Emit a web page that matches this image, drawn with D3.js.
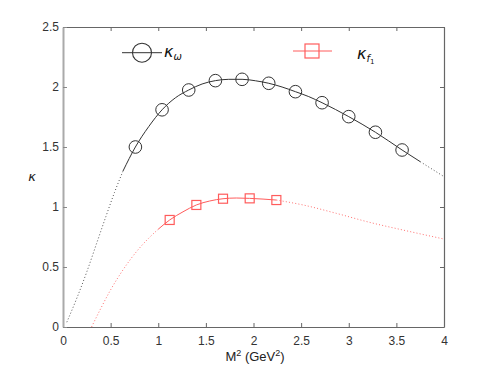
<!DOCTYPE html>
<html>
<head>
<meta charset="utf-8">
<script src="https://cdn.jsdelivr.net/npm/d3@7"></script>
<style>
  body { margin: 0; background: #fff; }
  svg { display: block; }
  .tick text { font-family: "Liberation Sans", Arial, sans-serif; font-size: 12px; fill: #333; }
</style>
</head>
<body>
<svg id="chart" width="491" height="371"></svg>
<script>
// ---- data ----
const xTicks = [0, 0.5, 1, 1.5, 2, 2.5, 3, 3.5, 4];
const yTicks = [0, 0.5, 1, 1.5, 2, 2.5];
const xTickLabels = ["0", "0.5", "1", "1.5", "2", "2.5", "3", "3.5", "4"];
const yTickLabels = ["0", "0.5", "1", "1.5", "2", "2.5"];

// kappa_omega data points
const omegaX = [0.76, 1.04, 1.32, 1.60, 1.88, 2.16, 2.44, 2.72, 3.00, 3.28, 3.56];
const omegaY = [1.50, 1.81, 1.975, 2.053, 2.064, 2.031, 1.961, 1.869, 1.753, 1.623, 1.475];

// kappa_f1 data points
const f1X = [1.12, 1.40, 1.68, 1.96, 2.24];
const f1Y = [0.892, 1.017, 1.069, 1.072, 1.058];

// fitted curve for kappa_omega
const omegaFitX = [0.04, 0.15, 0.25, 0.35, 0.45, 0.54, 0.63, 0.76, 0.90, 1.04, 1.18, 1.32, 1.46, 1.60, 1.74, 1.88, 2.02, 2.16, 2.30, 2.44, 2.58, 2.72, 2.86, 3.00, 3.14, 3.28, 3.42, 3.56, 3.75, 4.00];
const omegaFitY = [0.04, 0.25, 0.46, 0.69, 0.92, 1.12, 1.30, 1.50, 1.67, 1.81, 1.91, 1.975, 2.025, 2.053, 2.064, 2.064, 2.052, 2.031, 2.00, 1.961, 1.92, 1.869, 1.813, 1.753, 1.69, 1.623, 1.55, 1.475, 1.378, 1.253];
const omegaSolidRange = [0.63, 3.75];

// fitted curve for kappa_f1
const f1FitX = [0.30, 0.40, 0.50, 0.60, 0.70, 0.80, 0.90, 1.00, 1.12, 1.26, 1.40, 1.54, 1.68, 1.82, 1.96, 2.10, 2.24, 2.52, 2.87, 3.22, 3.57, 4.00];
const f1FitY = [0.00, 0.16, 0.31, 0.44, 0.555, 0.655, 0.74, 0.815, 0.892, 0.96, 1.017, 1.05, 1.069, 1.075, 1.072, 1.066, 1.058, 1.017, 0.947, 0.872, 0.808, 0.733];
const f1SolidRange = [1.00, 2.24];

// ---- chart ----
const svg = d3.select("#chart");
const x = d3.scaleLinear().domain([0, 4]).range([63, 444]);
const y = d3.scaleLinear().domain([0, 2.5]).range([327, 27]);

const black = "#333";
const red = "#ff5c5c";

// axes
const gx = svg.append("g").attr("transform", `translate(0,${y(0)})`)
  .call(d3.axisBottom(x).tickValues(xTicks).tickFormat((d, i) => xTickLabels[i]).tickSizeInner(-4).tickSizeOuter(0).tickPadding(9));
const gxt = svg.append("g").attr("transform", `translate(0,${y(2.5)})`)
  .call(d3.axisTop(x).tickValues(xTicks).tickFormat("").tickSizeInner(-4).tickSizeOuter(0));
const gy = svg.append("g").attr("transform", `translate(${x(0)},0)`)
  .call(d3.axisLeft(y).tickValues(yTicks).tickFormat((d, i) => yTickLabels[i]).tickSizeInner(-4).tickSizeOuter(0).tickPadding(4));
const gyr = svg.append("g").attr("transform", `translate(${x(4)},0)`)
  .call(d3.axisRight(y).tickValues(yTicks).tickFormat("").tickSizeInner(-4).tickSizeOuter(0));

[gx, gxt, gyr].forEach(g => {
  g.select(".domain").attr("stroke", "#666").attr("stroke-width", 1.2);
  g.selectAll(".tick line").attr("stroke", "#666");
});
gy.select(".domain").attr("stroke", "#aaa").attr("stroke-width", 2);
gy.selectAll(".tick line").attr("stroke", "#888");
[gx, gy].forEach(g => g.selectAll(".tick text").attr("fill", "#333"));

// curves
function drawFit(fx, fy, range, color, dotColor) {
  const pts = fx.map((v, i) => [v, fy[i]]);
  const line = d3.line().x(d => x(d[0])).y(d => y(d[1])).curve(d3.curveMonotoneX);
  const left = pts.filter(d => d[0] <= range[0]);
  const mid = pts.filter(d => d[0] >= range[0] && d[0] <= range[1]);
  const right = pts.filter(d => d[0] >= range[1]);
  [left, right].forEach(seg => {
    if (seg.length > 1) svg.append("path").attr("d", line(seg)).attr("fill", "none")
      .attr("stroke", dotColor).attr("stroke-width", 1).attr("stroke-dasharray", "1,2.2");
  });
  svg.append("path").attr("d", line(mid)).attr("fill", "none")
    .attr("stroke", color).attr("stroke-width", 1);
}
drawFit(omegaFitX, omegaFitY, omegaSolidRange, black, "#555");
drawFit(f1FitX, f1FitY, f1SolidRange, red, "#ff7070");

// markers
svg.append("g").selectAll("circle").data(omegaX).join("circle")
  .attr("cx", d => x(d)).attr("cy", (d, i) => y(omegaY[i])).attr("r", 6.3)
  .attr("fill", "none").attr("stroke", black).attr("stroke-width", 1);
const sq = 9;
svg.append("g").selectAll("rect").data(f1X).join("rect")
  .attr("x", d => x(d) - sq / 2).attr("y", (d, i) => y(f1Y[i]) - sq / 2)
  .attr("width", sq).attr("height", sq)
  .attr("fill", "none").attr("stroke", red).attr("stroke-width", 1.2);

// legend
const lg = svg.append("g");
lg.append("line").attr("x1", 122).attr("x2", 162).attr("y1", 52.7).attr("y2", 52.7).attr("stroke", black);
lg.append("circle").attr("cx", 142).attr("cy", 52.7).attr("r", 9.5).attr("fill", "none").attr("stroke", black).attr("stroke-width", 1.1);
const t1 = lg.append("text").attr("x", 164).attr("y", 57).attr("font-family", "DejaVu Sans").attr("font-style", "italic").attr("font-size", 16).attr("fill", "#111");
t1.append("tspan").text("κ");
t1.append("tspan").attr("font-size", 10).attr("dy", 3).text("ω");

lg.append("line").attr("x1", 293).attr("x2", 332).attr("y1", 51).attr("y2", 51).attr("stroke", red);
lg.append("rect").attr("x", 305).attr("y", 44).attr("width", 14).attr("height", 14).attr("fill", "none").attr("stroke", red).attr("stroke-width", 1.2);
const t2 = lg.append("text").attr("x", 357).attr("y", 59).attr("font-family", "DejaVu Sans").attr("font-style", "italic").attr("font-size", 16).attr("fill", "#111");
t2.append("tspan").text("κ");
t2.append("tspan").attr("font-size", 10).attr("dy", 3).text("f");
t2.append("tspan").attr("font-size", 7).attr("dy", 2).attr("font-style", "normal").text("1");

// axis labels
svg.append("text").attr("x", 32).attr("y", 181).attr("text-anchor", "middle")
  .attr("font-family", "DejaVu Sans").attr("font-style", "italic").attr("font-size", 13).attr("fill", "#222").text("κ");
const xl = svg.append("text").attr("x", 255).attr("y", 361).attr("text-anchor", "middle")
  .attr("font-family", "Liberation Sans, Arial, sans-serif").attr("font-size", 13).attr("fill", "#222");
xl.append("tspan").text("M");
xl.append("tspan").attr("font-size", 9).attr("dy", -5).text("2");
xl.append("tspan").attr("dy", 5).text(" (GeV");
xl.append("tspan").attr("font-size", 9).attr("dy", -5).text("2");
xl.append("tspan").attr("dy", 5).text(")");
</script>
</body>
</html>
